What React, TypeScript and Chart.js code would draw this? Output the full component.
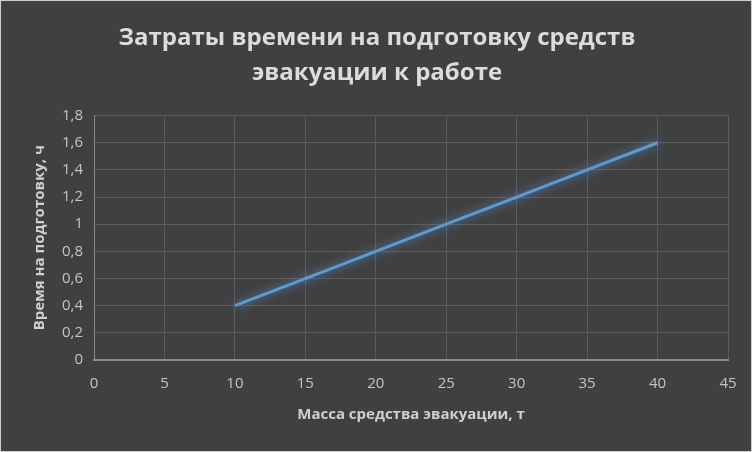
import React, { useEffect, useRef } from "react";
import { Chart, registerables } from "chart.js";

Chart.register(...registerables);

const xValues = [10, 15, 20, 25, 30, 35, 40];
const yValues = [0.4, 0.6, 0.8, 1.0, 1.2, 1.4, 1.6];
const titleLines = ["Затраты времени на подготовку средств", "эвакуации к работе"];
const xTitle = "Масса средства эвакуации, т";
const yTitle = "Время на подготовку, ч";

const FONT = "'Open Sans', 'DejaVu Sans', sans-serif";

const bgPlugin = {
  id: "bg",
  beforeDraw(chart: any) {
    const { ctx, width, height } = chart;
    ctx.save();
    ctx.fillStyle = "#404040";
    ctx.fillRect(0, 0, width, height);
    ctx.strokeStyle = "#d0d0d0";
    ctx.lineWidth = 1;
    ctx.strokeRect(0.5, 0.5, width - 1, height - 1);
    ctx.restore();
  },
};

const glowPlugin = {
  id: "glow",
  beforeDatasetDraw(chart: any) {
    const ctx = chart.ctx;
    ctx.save();
    ctx.shadowColor = "rgba(91,155,213,0.9)";
    ctx.shadowBlur = 10;
  },
  afterDatasetDraw(chart: any) {
    chart.ctx.restore();
  },
};

export default function App() {
  const ref = useRef<HTMLCanvasElement>(null);
  useEffect(() => {
    document.body.style.margin = "0";
    const chart = new Chart(ref.current!, {
      type: "line",
      data: {
        datasets: [
          {
            data: xValues.map((x, i) => ({ x, y: yValues[i] })),
            borderColor: "#5b9bd5",
            borderWidth: 3,
            pointRadius: 0,
            fill: false,
            tension: 0,
          },
        ],
      },
      options: {
        responsive: false,
        animation: false,
        layout: { padding: { left: 26, right: 24, top: 4, bottom: 24 } },
        plugins: {
          legend: { display: false },
          tooltip: { enabled: false },
          title: {
            display: true,
            text: titleLines,
            color: "#dcdcdc",
            font: { family: FONT, size: 24, weight: "bold", lineHeight: 1.45 },
            padding: { top: 17, bottom: 25 },
          },
        },
        scales: {
          x: {
            type: "linear",
            min: 0,
            max: 45,
            ticks: { stepSize: 5, color: "#c4c4c4", font: { family: FONT, size: 15 }, padding: 15 },
            grid: { color: "#5c5c5c", drawTicks: false, lineWidth: 1 },
            border: { color: "#8a8a8a", width: 2 },
            title: {
              display: true,
              text: xTitle,
              color: "#d0d0d0",
              font: { family: FONT, size: 15, weight: "bold" },
              padding: { top: -2, bottom: 4 },
            },
          },
          y: {
            min: 0,
            max: 1.8,
            ticks: {
              stepSize: 0.2,
              color: "#c4c4c4",
              font: { family: FONT, size: 15 },
              padding: 11,
              callback: (v: any) => String(Number(Number(v).toFixed(1))).replace(".", ","),
            },
            grid: { color: "#5c5c5c", drawTicks: false, lineWidth: 1 },
            border: { color: "#8a8a8a", width: 1 },
            title: {
              display: true,
              text: yTitle,
              color: "#d0d0d0",
              font: { family: FONT, size: 15, weight: "bold" },
              padding: { top: 5, bottom: 2 },
            },
          },
        },
      },
      plugins: [bgPlugin, glowPlugin],
    });
    return () => chart.destroy();
  }, []);
  return (
    <div style={{ position: "absolute", left: 0, top: 0, width: 752, height: 452 }}>
      <canvas ref={ref} width={752} height={452} />
    </div>
  );
}
